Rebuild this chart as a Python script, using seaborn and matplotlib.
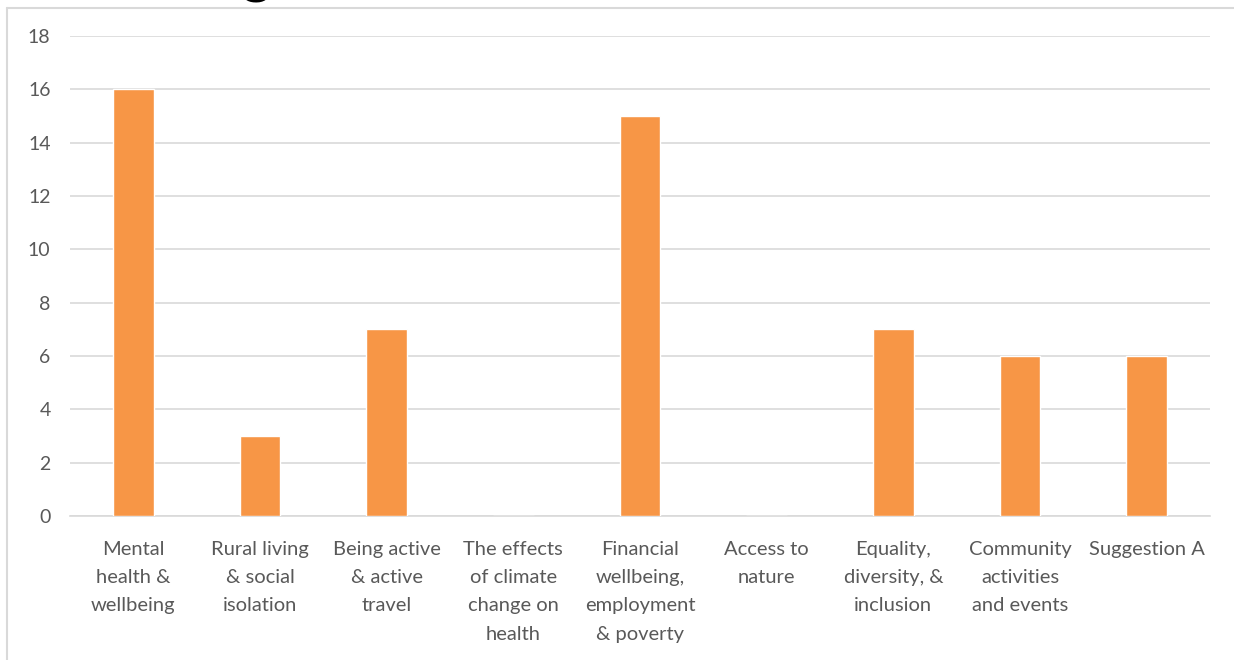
import matplotlib
matplotlib.use("Agg")
import matplotlib.pyplot as plt
from matplotlib.lines import Line2D
import seaborn as sns
import pandas as pd

categories = [
    "Mental\nhealth &\nwellbeing",
    "Rural living\n& social\nisolation",
    "Being active\n& active\ntravel",
    "The effects\nof climate\nchange on\nhealth",
    "Financial\nwellbeing,\nemployment\n& poverty",
    "Access to\nnature",
    "Equality,\ndiversity, &\ninclusion",
    "Community\nactivities\nand events",
    "Suggestion A",
]
values = [16, 3, 7, 0, 15, 0, 7, 6, 6]
y_ticks = [0, 2, 4, 6, 8, 10, 12, 14, 16, 18]

sns.set_theme(style="white")
plt.rcParams["font.family"] = ["Lato", "DejaVu Sans"]

W, H = 1234, 660
fig = plt.figure(figsize=(W / 100, H / 100), dpi=100)
ax = fig.add_axes([70 / W, 1 - 516 / H, (1210 - 70) / W, (516 - 36) / H])

df = pd.DataFrame({"topic": categories, "count": values})
sns.barplot(data=df, x="topic", y="count", color="#F79646", saturation=1,
            width=0.32, ax=ax, zorder=3)

ax.set_ylim(0, 18)
ax.set_yticks(y_ticks)
ax.yaxis.grid(True, color="#D9D9D9", linewidth=1.2, zorder=0)
ax.set_axisbelow(True)
for s in ["left", "right", "top"]:
    ax.spines[s].set_visible(False)
ax.spines["bottom"].set_color("#D9D9D9")
ax.spines["bottom"].set_linewidth(1.2)
ax.set_xlabel("")
ax.set_ylabel("")
ax.tick_params(axis="y", length=0, pad=14, labelsize=14, labelcolor="#595959")
ax.tick_params(axis="x", length=0, pad=18, labelsize=14.5, labelcolor="#595959")
for lbl in ax.get_xticklabels():
    lbl.set_linespacing(1.8)

# chart area border
border = dict(color="#D9D9D9", linewidth=1.5, transform=fig.transFigure)
fig.add_artist(Line2D([7 / W, 7 / W], [0, 1 - 8 / H], **border))
fig.add_artist(Line2D([7 / W, 1], [1 - 8 / H, 1 - 8 / H], **border))

# chart title, sitting above the top edge
fig.text(272 / W, 1 + 8 / H, "Ranking", ha="right", va="baseline",
         fontsize=40, fontweight="bold", color="black")

fig.savefig("out.png", dpi=100, facecolor="white")
